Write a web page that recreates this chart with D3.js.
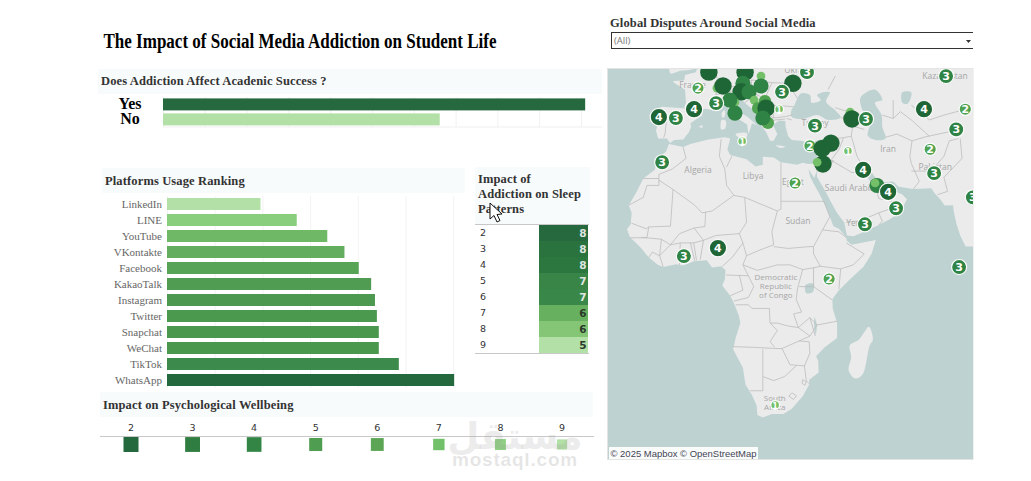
<!DOCTYPE html>
<html>
<head>
<meta charset="utf-8">
<script src="https://cdn.jsdelivr.net/npm/d3@7"></script>
<style>
html,body{margin:0;padding:0;background:#fff;overflow:hidden}
svg{display:block}
text{font-family:"Liberation Serif",serif}
.sans{font-family:"DejaVu Sans",sans-serif}
.open{font-family:"Open Sans",sans-serif}
.head{font-weight:700;font-size:12.5px;fill:#333;letter-spacing:.13px}
</style>
</head>
<body>
<svg id="dash" width="1031" height="481"></svg>
<script>
// ---- Dashboard values ----
const academicLabels = ["Yes", "No"];
const academicValues = [505, 331];

const platforms = ["LinkedIn","LINE","YouTube","VKontakte","Facebook","KakaoTalk","Instagram","Twitter","Snapchat","WeChat","TikTok","WhatsApp"];
const platformValues = [98, 136, 168, 186, 201, 214, 218, 220, 222, 222, 243, 301];

const sleepLevels = [2,3,4,5,6,7,8,9];
const sleepValues = [8,8,8,7,7,6,6,5];
const sleepShades = ["#26693f","#2a733f","#2c763f","#388547","#3a8849","#66b05f","#84c676","#b3e0a6"];

const wellbeingLevels = [2,3,4,5,6,7,8,9];
const wellbeingValues = [225,220,215,170,165,130,120,105];
const wellbeingShades = ["#24693d","#2f7d40","#338545","#4f9d50","#5ba555","#73c06a","#8fd084","#b3e0a6"];

// Conflict counts per place: [place, longitude, latitude, count]
const disputes = [
  ["Germany",5.1,50.2,4],["Austria",15.1,50.2,4],["Slovakia",19.5,49.5,1],["Ukraine",32.2,50.2,3],
  ["Moldova",28.3,48.2,4],["Geneva",7.3,47.3,1],["Switzerland",9,47.7,4],["France",2.1,47.3,2],
  ["Hungary",14.5,48.2,3],["Romania",19.5,47.7,3],["Slovenia",14,46.6,4],["Croatia",16.2,46.6,3],
  ["Bulgaria",25.3,46.6,3],["Bosnia",17.6,45,1],["Adriatic",12.3,44.6,1],["Italy",10.9,45,3],
  ["Monaco",7.1,44.4,3],["Catalonia",1,43.2,4],["Serbia",20.6,44.8,2],["Montenegro",18.7,43.4,2],
  ["Kosovo",20.9,43.4,4],["Istanbul",24.5,43.2,1],["Malta",12.3,42.4,3],["Portugal",-8.7,41.6,4],
  ["Spain",-4,41.4,3],["Greece",21.4,40.4,2],["Albania",20,41.4,3],["Turkey",34.4,39.8,3],
  ["Georgia",44.1,42.6,1],["Armenia",44.6,41.2,4],["Azerbaijan",48.5,41.2,3],["Uzbekistan",64.5,43.2,4],
  ["Kyrgyzstan",75.9,43.2,2],["Kazakhstan",70.6,49.5,3],["Tajikistan",73.4,39,3],["Afghanistan",66.2,34.6,2],
  ["Pakistan",67.3,29,3],["Iraq",47.7,29.8,4],["Tunisia",14.3,36.4,1],["Kurdistan",43.5,34.2,1],
  ["Morocco",-7.8,31.6,3],["Cyprus",33,35.4,2],["Syria",38.8,36,4],["Lebanon",36.4,34.8,4],
  ["Jordan",36.6,31.2,4],["Israel",35,31.6,1],["Egypt",28.9,26.6,2],["Qatar",51.5,26,3],
  ["Bahrain",51,26.6,1],["UAE",54.6,24.4,4],["Oman",56.8,20.2,3],["Yemen",48.2,16,3],
  ["Nigeria",7.6,9.6,4],["Ghana",-1.8,7.4,3],["Maldives",74.2,4.4,3],["Kenya",38.3,1.1,2],
  ["India",78,23,3],["South Africa",23.4,-31.9,1]
];
// Overlapping marks that carry no printed count
const unlabelledPlaces = ["Germany","Austria","Slovakia","Moldova","Switzerland","Geneva","Hungary","Romania","Slovenia","Croatia","Bosnia","Adriatic","Italy","Serbia","Montenegro","Kosovo","Malta","Albania","Greece","Georgia","Armenia","Syria","Lebanon","Jordan","Israel","Qatar","Bahrain"];

const mapLabels = [
  ["Algeria",2.1,29],["Libya",17.3,27.6],["Egypt",28.3,26],["Saudi Arabia",44,24.6],["Sudan",29.7,16],
  ["Iran",54.6,34],["Turkey",34.4,39.8],["France",.6,47.3],["Ukraine",30.2,50],["Kazakhstan",70.3,49],
  ["Yemen",46.8,15.6],["Pakistan",67.6,29.8]
];
const mapLabelStacks = [
  [["Democratic","Republic","of Congo"],23.6,.8],
  [["South","Africa"],23.3,-31]
];

// Land outlines as longitude/latitude rings
const mainland = [[-5.9,35.8],[-6.8,34],[-9.3,32.5],[-9.8,29.8],[-13,27.7],[-14.8,24.5],[-17,21],[-16.2,19],[-16.5,16],[-17.5,14.7],[-16.7,12.5],[-15,11],[-13.5,9.5],[-11.5,7],[-9,5],[-7.5,4.4],[-4,5.2],[-2,4.8],[1,6],[4.5,6.3],[6,4.3],[8.5,4.6],[9.7,3.5],[9.5,1],[8.8,-0.7],[11,-3.5],[12,-5.5],[13.4,-9],[13.8,-11],[12.5,-15],[11.8,-18],[14.5,-22.8],[15.2,-27],[17,-29.5],[18.3,-32],[18.5,-34.2],[20,-34.8],[22.5,-34],[25.7,-34],[28,-32.8],[31,-29.8],[32.8,-27],[32.8,-25.8],[35.4,-24],[35.3,-21],[34.7,-19.8],[37,-17.5],[40.5,-15],[40.5,-11],[39.3,-7],[39.2,-4.5],[41,-2],[44,1],[47.8,4.5],[50,8],[51.2,11.8],[48,11.2],[44.5,10.5],[43.2,11.6],[43,12.5],[41,14.8],[39.5,15.5],[38.5,18],[37.2,21],[35.6,23.9],[34,26.5],[33,28.3],[32.6,30],[34.2,27.8],[34.9,29.5],[35,28],[37,25],[39,21.5],[40.5,19],[42.5,16.5],[43.2,13],[45,12.8],[48,14],[52,15.8],[55,17.3],[57.8,19],[59.8,22.5],[58.5,23.7],[56.5,24.5],[56.3,26.2],[55,25.2],[53,24.2],[51.6,24.2],[51.5,26],[51,25],[50,26.5],[48.5,28.5],[48,30],[49,30.4],[51,28],[53,26.8],[56,27],[57.5,25.7],[61.5,25.1],[66.5,25.3],[67.5,24],[69,22.5],[70.2,20.9],[72.5,21],[72.8,19],[73.5,16],[74.5,13],[76,10],[90,10],[90,62],[8.5,62],[8.5,57],[8,54],[5,53.5],[4,52],[2,51],[1.5,50.2],[-1.5,49.7],[-1.7,48.7],[-4.7,48.6],[-4.7,48.4],[-1.5,47],[-1.2,44.5],[-1.8,43.4],[-8,43.7],[-9.2,43],[-8.8,41],[-9.5,38.7],[-8.9,37],[-6.5,37],[-5.6,36],[-4.5,36.7],[-2,36.8],[-0.5,38.3],[0.2,39.5],[0,40.3],[3.2,41.9],[3.5,43.3],[6,43.1],[7.5,43.8],[8.9,44.4],[10.3,43.5],[11,42.4],[12.4,41.5],[14.2,40.8],[15.7,40],[16,38],[16.5,39],[17,40.3],[18.4,39.9],[16,41.5],[14,42.5],[12.5,44],[12.3,45.3],[13.7,45.6],[15,44.5],[17.5,43],[19.4,41.5],[19.4,40],[21,38.3],[22,36.5],[23,36.5],[24,38],[22.8,40],[24.5,40.9],[26.2,40.8],[26.3,39.5],[27,37.5],[28,36.7],[30.5,36.5],[33,36.1],[36,36.8],[35.9,35],[35,33],[34.3,31.3],[32.5,31.2],[31,31.5],[29.5,31],[25,31.6],[23,32.7],[20,32.9],[20,31],[18,30.6],[15.5,32.3],[11,33.3],[10.2,34.5],[11,37],[9.5,37.3],[5,36.8],[0,35.8],[-2,35.1]];
const islands = [
  [[49.3,-12],[50.4,-15.5],[49.5,-17],[47.5,-24.5],[45.5,-25.5],[43.7,-23.5],[44.4,-20],[44,-17],[46.5,-15.5],[48,-13.5]],
  [[8.6,41],[9.7,40.9],[9.6,39.2],[8.5,39],[8.4,40.5]],
  [[8.7,42.5],[9.5,43],[9.4,41.6],[8.8,41.5]],
  [[12.5,38],[15.6,38.2],[15.1,36.7],[12.7,37.6]],
  [[23.6,35.5],[26.2,35.2],[24.8,34.9]],
  [[32.4,35],[34.5,35.6],[33.7,34.7],[32.7,34.6]],
  [[1.4,39.1],[3.3,39.9],[3.2,39.3],[2.4,39.5]],
  [[-5.5,50],[-3,50.4],[1.3,51],[1,53],[-5,53]]
];
const inlandWaters = [
  [[28,41.6],[31,41.2],[35,42],[38,41],[41.5,41.5],[40,43],[37.5,44.7],[38.5,46.5],[35,46],[36,45],[33.5,44.5],[33,46],[30.5,46.3],[28.7,44],[27.8,42.8]],
  [[47,45.5],[51,47],[53,45],[51,44.5],[52.8,42],[53,39.5],[53.9,37],[51,36.7],[49,37.6],[49.5,40.3],[47.5,43]],
  [[31.8,-0.5],[34,-0.2],[33.8,-2.5],[32,-2.8]],
  [[58.5,46.5],[61,46.5],[60,44.3],[58.5,44.5]],
  [[34.3,-9.5],[34.9,-11.5],[34.6,-14],[34.2,-12]]
];
const borders = [
  [[-2,35.1],[-1.2,32.5],[-5,30],[-8.7,28.7],[-8.7,26],[-12,26],[-13,23],[-17,21]],
  [[-13,27.7],[-8.7,27.7]],[[-8.7,27.3],[-4.8,25],[1.2,21],[3.2,19],[6,19.5],[12,23.5]],
  [[-4.8,25],[-5.5,15.5],[-11.5,15.3],[-12.2,14.8],[-16.3,16.3]],[[8.5,36.9],[8,33],[9.5,30],[10,26],[12,23.5]],
  [[11.5,33.1],[10,30.5]],[[25,31.6],[25,20]],[[25,22],[36.9,22]],[[25,20],[24,19.5],[15,23],[12,23.5]],
  [[24,19.5],[22.5,14],[23,10.5]],[[15,23],[15.5,16.5],[13.5,13.5]],[[3.6,11.7],[7,13],[13.5,13.5]],
  [[4.2,19.2],[4,15.4],[1,15],[3.6,11.7]],[[3.6,11.7],[2.7,6.4]],[[13.5,13.5],[14.5,11],[11.5,7],[8.8,4.6]],
  [[1.7,6.2],[0.9,11]],[[1.2,6.1],[0,11.1]],[[-3,5],[-2.8,11]],[[-5.5,10.5],[-2.8,11],[0.9,11],[3.6,11.7]],
  [[-5.5,10.5],[-3,13.5],[1,15]],[[-7.5,4.4],[-8.5,7.5],[-5.5,10.5]],[[-11.5,7],[-10.5,8.5],[-8.5,7.5]],
  [[-13.5,12.5],[-8,12],[-8.5,7.5]],[[-16.7,12.4],[-12,12.4],[-11.5,15.3]],[[-8,12],[-5.5,10.5]],
  [[14.5,11],[15.5,7.5],[19,9],[23,10.5]],[[15.5,7.5],[14.5,5],[18.5,3.5],[24,5],[27.5,5]],
  [[23,10],[27,9.5],[33,10],[34,10]],[[36.9,22],[38.5,18],[36.5,14.5],[34,10]],
  [[27.5,5],[31,3.7],[34,4.2],[35.9,4.6],[34,8],[34,10]],[[35.9,4.6],[41.5,3.9],[41,-1.7]],
  [[41.5,3.9],[45,5],[48,8],[43,11]],[[36.5,14.5],[41,14],[43,12.5]],[[34,4.2],[34,-1],[39.2,-4.7]],
  [[31,3.7],[29.6,-1.4],[29.2,-4.5],[30.7,-8],[28.5,-8.5],[29.8,-12.2],[27,-11.8],[24,-11],[22,-11],[21.8,-7],[17,-7],[16,-6],[12.5,-6]],
  [[14.5,5],[16,2],[17.5,-1],[16,-4],[12,-5]],[[9.8,2.2],[16,2]],[[13.5,2.2],[14.5,-2],[11,-3.5]],
  [[11.8,-17.3],[18,-17.5],[23.5,-17.8],[25.3,-17.8],[30,-15.8]],[[22,-11],[24,-13],[22,-16],[23.3,-17.5]],
  [[25.3,-17.8],[27.5,-22],[31.5,-22.3],[33,-19],[32.8,-16],[30,-15.8]],[[20,-18],[20,-28.5],[16.5,-28.5]],
  [[20,-25],[23,-26],[26,-25],[29.3,-22.2]],[[30,-15.8],[33,-14.5],[35,-11.5],[40.5,-10.5]],
  [[31.5,-22.3],[32,-26],[32.8,-26.8]],[[29.8,-12.2],[33,-9.5],[34.5,-14.5]],[[29.8,-12.2],[33,-14.5]],
  [[33,-9.5],[35,-11.5]],[[34,-1],[30,-1]],
  [[28,-29],[29.3,-29.7],[28.5,-30.6],[27.2,-29.8],[28,-29]],[[31,-25.8],[32,-26.3],[31.6,-27.2],[30.8,-26.6],[31,-25.8]],
  [[43,16.5],[47,17],[52,19],[55,20],[55.5,22],[52,22.7],[51.6,24.2]],[[52,15.8],[53,16.8],[52,19]],[[56.4,24.6],[55.5,22]],
  [[35,29.4],[38,30],[39.5,32],[36,32.5]],[[39,32],[44.5,29.2],[47.5,29]],[[48,30],[46,33],[45,36],[44.4,37.5]],
  [[36.1,36.6],[42.3,37.2],[44.4,37.5]],[[42.3,37.2],[41,34.5],[39,32.3]],[[34.9,29.5],[35.5,33.2],[36,33.5]],
  [[44.4,37.5],[44.8,39.7]],[[41.6,41.5],[43.5,41],[44.8,39.7],[48,39]],[[40,43.5],[44,42.6],[48.5,41.7]],
  [[53.9,37.3],[57,38],[61.2,36.5],[60.6,33],[61,31.3],[63.2,27],[61.6,25.1]],[[61,29.5],[66.5,29.5],[70,33],[71.5,36.5],[74,37]],
  [[68.2,23.7],[71,24.5],[70,28],[75,32.5],[74.5,37]],[[61.2,36.5],[65,37.4],[71,38.4],[74,38.6]],
  [[53,42],[56,41.3],[58,42.7],[61,41],[66,37.5]],[[56,45],[56,41.3]],[[61,44],[66,41],[70,42],[75,43]],
  [[-1.8,43.4],[3.2,42.4]],[[-8.8,42],[-6.5,41.7],[-7,38],[-7.4,37.2]],[[7.5,47.5],[8.2,49],[6,49.5],[2.5,51]],
  [[7.5,43.8],[7,46],[10.5,46.8],[13.7,46.5],[13.7,45.6]],[[7,46],[7.5,47.5],[10,47.5],[13,47.6],[17,48.8]],
  [[13.7,46.5],[16.5,46.8],[18.8,45.9],[22.5,44],[23,41.4],[26.3,41.7],[28,42]],[[22.5,44],[28.5,43.7]],
  [[22.5,48.3],[27,48.2],[29.5,45.4]],[[16.5,46.8],[17,48.8],[22.5,48.3],[21,46],[22.5,44]],
  [[20,39.7],[21,40.8],[26.2,41.2]],[[19.4,41.5],[21,42.3],[23,41.4]],[[18.8,45.9],[16,45],[15,44.5]],
  [[38,47],[40,49.5]],[[26.6,41.3],[28,41]]
];

const GREEN_DEEP = "#24693d", GREEN_PALE = "#b3e0a6";
const svg = d3.select("#dash");

function header(x, y, w, h, lines, tx, ty) {
  svg.append("rect").attr("x", x).attr("y", y).attr("width", w).attr("height", h).attr("fill", "#f8fbfc");
  lines.forEach((t, i) => svg.append("text").attr("class", "head")
    .attr("x", tx).attr("y", ty + i * 15).text(t));
}

// Title
svg.append("text").attr("x", 103.5).attr("y", 47.5).attr("font-size", 20).attr("font-weight", 700)
  .attr("textLength", 393).attr("lengthAdjust", "spacingAndGlyphs")
  .attr("fill", "#000").text("The Impact of Social Media Addiction on Student Life");

// ---- Academic success bars ----
header(98, 69, 504, 25, ["Does Addiction Affect Acadenic Success ?"], 101, 85);
const acX = d3.scaleLinear().domain([0, 500]).range([163, 581]);
const acY = d3.scaleBand().domain(academicLabels).range([97.5, 127.5]).paddingInner(.12).paddingOuter(.06);
const acAxis = svg.append("g").attr("transform", "translate(0,127)")
  .call(d3.axisBottom(acX).ticks(10).tickSize(-30).tickFormat(""));
acAxis.select(".domain").remove();
acAxis.selectAll("line").attr("stroke", "#f1f1f1");
svg.append("line").attr("x1", 163).attr("x2", 602).attr("y1", 127).attr("y2", 127).attr("stroke", "#efefef");
svg.append("g").selectAll("rect").data(academicLabels).join("rect")
  .attr("x", acX(0)).attr("y", d => acY(d)).attr("height", 12)
  .attr("width", (d, i) => acX(academicValues[i]) - acX(0))
  .attr("fill", (d, i) => i ? GREEN_PALE : "#27693f");
svg.append("g").selectAll("text").data(academicLabels).join("text")
  .attr("x", 130).attr("y", d => acY(d) + 11).attr("text-anchor", "middle")
  .attr("font-size", 16).attr("font-weight", 700).attr("fill", "#000").text(d => d);

// ---- Platform ranking ----
header(102, 168, 363, 25, ["Platforms Usage Ranking"], 105, 185);
const plX = d3.scaleLinear().domain([0, 300]).range([167, 453.2]);
const plY = d3.scaleBand().domain(platforms).range([196, 388]).paddingInner(.25).paddingOuter(.125);
const plColor = d3.scaleLinear().domain([98, 136, 168, 222, 243, 301])
  .range([GREEN_PALE, "#89ce7c", "#6fb866", "#4a974e", "#3d8b4c", GREEN_DEEP]);
const plAxis = svg.append("g").attr("transform", "translate(0,388)")
  .call(d3.axisBottom(plX).tickValues(d3.range(0, 301, 50)).tickSize(-192).tickFormat(""));
plAxis.select(".domain").remove();
plAxis.selectAll("line").attr("stroke", "#f3f3f3");
svg.append("g").selectAll("rect").data(platforms).join("rect")
  .attr("x", plX(0)).attr("y", d => plY(d)).attr("height", plY.bandwidth())
  .attr("width", (d, i) => plX(platformValues[i]) - plX(0))
  .attr("fill", (d, i) => plColor(platformValues[i]));
svg.append("g").selectAll("text").data(platforms).join("text")
  .attr("x", 162).attr("y", d => plY(d) + plY.bandwidth() / 2 + 3.5).attr("text-anchor", "end")
  .attr("font-size", 11).attr("fill", "#666").text(d => d);

// ---- Sleep table ----
header(475, 167, 115, 57, ["Impact of", "Addiction on Sleep", "Patterns"], 478, 183);
const slY = d3.scaleBand().domain(sleepLevels).range([225, 353]);
svg.append("line").attr("x1", 475).attr("x2", 589).attr("y1", 224.5).attr("y2", 224.5).attr("stroke", "#c8c8c8");
svg.append("line").attr("x1", 475).attr("x2", 589).attr("y1", 353.5).attr("y2", 353.5).attr("stroke", "#c8c8c8");
svg.append("g").selectAll("rect").data(sleepLevels).join("rect")
  .attr("x", 539).attr("width", 49).attr("y", d => slY(d)).attr("height", slY.bandwidth())
  .attr("fill", (d, i) => sleepShades[i]);
svg.append("g").selectAll("text").data(sleepLevels).join("text").attr("class", "sans")
  .attr("x", 480).attr("y", d => slY(d) + 11).attr("font-size", 9.5).attr("fill", "#333").text(d => d);
svg.append("g").selectAll("text").data(sleepLevels).join("text").attr("class", "sans")
  .attr("x", 586.5).attr("y", d => slY(d) + 11.5).attr("text-anchor", "end").attr("font-size", 10.5).attr("font-weight", 700)
  .attr("fill", (d, i) => i < 5 ? "#dfe6e0" : "#2a3a2c").text((d, i) => sleepValues[i]);

// ---- Wellbeing squares ----
header(100, 392, 493, 25, ["Impact on Psychological Wellbeing"], 103, 409);
const wbX = d3.scalePoint().domain(wellbeingLevels).range([131, 562]);
const wbSide = d3.scaleSqrt().domain([0, 225]).range([0, 15]);
svg.append("line").attr("x1", 100).attr("x2", 594).attr("y1", 436.5).attr("y2", 436.5).attr("stroke", "#c8c8c8");
svg.append("g").selectAll("text").data(wellbeingLevels).join("text").attr("class", "sans")
  .attr("x", d => wbX(d)).attr("y", 431).attr("text-anchor", "middle").attr("font-size", 9.5).attr("fill", "#333").text(d => d);
svg.append("g").selectAll("rect").data(wellbeingLevels).join("rect")
  .attr("x", (d, i) => wbX(d) - wbSide(wellbeingValues[i]) / 2)
  .attr("y", (d, i) => 444.5 - wbSide(wellbeingValues[i]) / 2)
  .attr("width", (d, i) => wbSide(wellbeingValues[i]))
  .attr("height", (d, i) => wbSide(wellbeingValues[i]))
  .attr("fill", (d, i) => wellbeingShades[i]);

// ---- Filter control ----
svg.append("text").attr("class", "head").attr("x", 610).attr("y", 27).text("Global Disputes Around Social Media");
const defs = svg.append("defs");
defs.append("clipPath").attr("id", "filterClip").append("rect")
  .attr("x", 608).attr("y", 30).attr("width", 365).attr("height", 20);
svg.append("rect").attr("clip-path", "url(#filterClip)").attr("x", 611.5).attr("y", 32.5).attr("width", 368).attr("height", 16)
  .attr("fill", "#fff").attr("stroke", "#333");
svg.append("text").attr("class", "open").attr("x", 614).attr("y", 44).attr("font-size", 9.5).attr("fill", "#777").text("(All)");
svg.append("path").attr("d", d3.line()([[966, 40], [971, 40], [968.5, 43]])).attr("fill", "#333");

// ---- Map ----
const projection = d3.geoMercator().scale(207.5).translate([690.4, 283]);
const ring = d3.line().curve(d3.curveCatmullRomClosed.alpha(.5));
const toXY = pts => pts.map(p => projection(p));

defs.append("clipPath").attr("id", "mapClip").append("rect")
  .attr("x", 608).attr("y", 69).attr("width", 365).attr("height", 390);
svg.append("rect").attr("x", 607.5).attr("y", 68.5).attr("width", 365.5).attr("height", 391)
  .attr("fill", "none").attr("stroke", "#e4e4e4");
const map = svg.append("g").attr("clip-path", "url(#mapClip)");
map.append("rect").attr("x", 608).attr("y", 69).attr("width", 365).attr("height", 390).attr("fill", "#bfd2d2");
map.append("path").attr("d", d3.line()(toXY(mainland)) + "Z").attr("fill", "#ebebeb");
map.selectAll(".isle").data(islands).join("path").attr("class", "isle").attr("d", d => ring(toXY(d))).attr("fill", "#ebebeb");
map.selectAll(".lake").data(inlandWaters).join("path").attr("class", "lake").attr("d", d => ring(toXY(d))).attr("fill", "#bfd2d2");
map.selectAll(".border").data(borders).join("path").attr("class", "border").attr("d", d => d3.line()(toXY(d)))
  .attr("fill", "none").attr("stroke", "#b9b9b9").attr("stroke-width", .75);

map.selectAll(".place").data(mapLabels).join("text").attr("class", "place open")
  .attr("x", d => projection([d[1], d[2]])[0]).attr("y", d => projection([d[1], d[2]])[1])
  .attr("text-anchor", "middle").attr("font-size", 8.5).attr("fill", "#a6a6a6").text(d => d[0]);
mapLabelStacks.forEach(s => {
  const [x, y] = projection([s[1], s[2]]);
  s[0].forEach((t, i) => map.append("text").attr("class", "open").attr("x", x).attr("y", y + i * 9)
    .attr("text-anchor", "middle").attr("font-size", 8).attr("fill", "#a6a6a6").text(t));
});

const radius = d3.scaleSqrt().domain([0, 4]).range([0, 8.7]);
const countColor = d3.scaleOrdinal().domain([1, 2, 3, 4]).range(["#74c069", "#4fa24f", "#2f8344", "#1f6636"]);
map.selectAll(".dot").data(disputes).join("circle").attr("class", "dot")
  .attr("cx", d => projection([d[1], d[2]])[0]).attr("cy", d => projection([d[1], d[2]])[1])
  .attr("r", d => radius(d[3])).attr("fill", d => countColor(d[3]))
  .attr("stroke", "#fff").attr("stroke-opacity", d => unlabelledPlaces.includes(d[0]) ? 0 : .95).attr("stroke-width", 1.2);
map.selectAll(".count").data(disputes.filter(d => !unlabelledPlaces.includes(d[0]))).join("text").attr("class", "count sans")
  .attr("x", d => projection([d[1], d[2]])[0]).attr("y", d => projection([d[1], d[2]])[1] + 4)
  .attr("text-anchor", "middle").attr("font-size", d => d[3] === 1 ? 8 : 11).attr("font-weight", 700).attr("fill", "#fff").text(d => d[3]);

map.append("rect").attr("x", 609).attr("y", 447).attr("width", 149).attr("height", 12).attr("fill", "#fff").attr("fill-opacity", .92);
map.append("text").attr("x", 610.5).attr("y", 456.5).attr("font-size", 9.6)
  .attr("textLength", 146).attr("lengthAdjust", "spacingAndGlyphs")
  .attr("style", "font-family:'Liberation Sans'").attr("fill", "#445")
  .text("© 2025 Mapbox  © OpenStreetMap");

// ---- Site mark and pointer ----
svg.append("text").attr("x", 515).attr("y", 449).attr("text-anchor", "middle").attr("font-size", 37).attr("font-weight", 700)
  .attr("style", "font-family:'DejaVu Sans'").attr("fill", "#9a9a9a").attr("fill-opacity", .2).text("مستقل");
svg.append("text").attr("x", 515).attr("y", 466).attr("text-anchor", "middle").attr("font-size", 19).attr("font-weight", 700)
  .attr("style", "font-family:'Liberation Sans'").attr("fill", "#9a9a9a").attr("fill-opacity", .25).attr("letter-spacing", .8).text("mostaql.com");
svg.append("path").attr("d", "M490,203 L490,219 L494,215.5 L497,222 L500,220.5 L497,214.5 L502,214 Z")
  .attr("fill", "#fff").attr("stroke", "#111").attr("stroke-width", 1);
</script>
</body>
</html>
